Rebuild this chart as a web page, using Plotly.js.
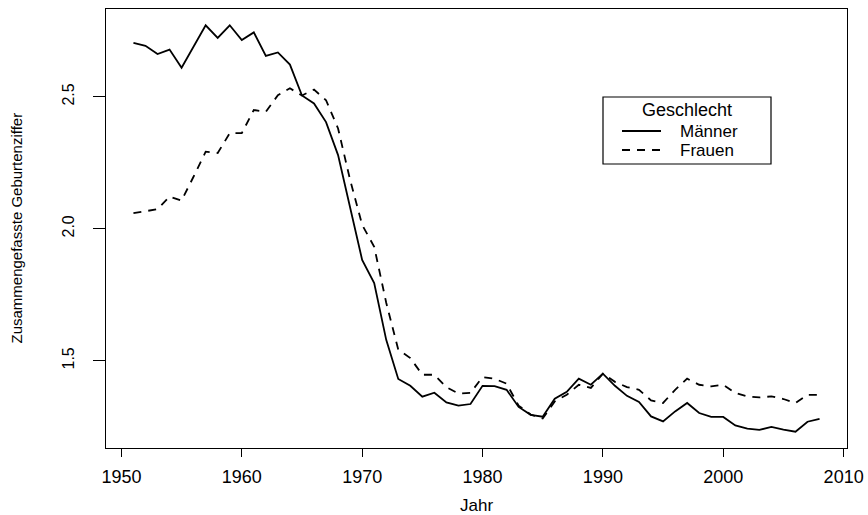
<!DOCTYPE html>
<html>
<head>
<meta charset="utf-8">
<script src="https://cdn.plot.ly/plotly-3.0.1.min.js"></script>
<style>
  html, body { margin: 0; padding: 0; background: #fff; }
  #plot { width: 868px; height: 515px; }
</style>
</head>
<body>
<div id="plot"></div>
<script>
const years = [];
for (let y = 1951; y <= 2008; y++) years.push(y);

const maenner = [
    2.704, 2.693, 2.662, 2.679, 2.610, 2.691, 2.771, 2.723, 2.771, 2.715,
    2.744, 2.655, 2.668, 2.622, 2.505, 2.475, 2.404, 2.279, 2.084, 1.882,
    1.794, 1.579, 1.431, 1.405, 1.364, 1.379, 1.342, 1.330, 1.336, 1.405,
    1.404, 1.390, 1.325, 1.295, 1.288, 1.356, 1.382, 1.432, 1.409, 1.451,
    1.405, 1.367, 1.344, 1.289, 1.270, 1.308, 1.340, 1.302, 1.287, 1.287,
    1.255, 1.243, 1.238, 1.249, 1.239, 1.231, 1.269, 1.280
];

const frauen = [
    2.059, 2.067, 2.074, 2.122, 2.107, 2.198, 2.292, 2.287, 2.362, 2.362,
    2.450, 2.443, 2.506, 2.532, 2.505, 2.527, 2.487, 2.380, 2.185, 2.015,
    1.932, 1.720, 1.542, 1.510, 1.447, 1.447, 1.400, 1.376, 1.378, 1.438,
    1.432, 1.413, 1.330, 1.296, 1.281, 1.346, 1.371, 1.409, 1.397, 1.451,
    1.420, 1.400, 1.390, 1.350, 1.340, 1.390, 1.432, 1.409, 1.403, 1.409,
    1.378, 1.365, 1.361, 1.365, 1.355, 1.340, 1.371, 1.371
];

const xTicks = [1950, 1960, 1970, 1980, 1990, 2000, 2010];
const yTicks = [1.5, 2.0, 2.5];
const seriesNames = ["Männer", "Frauen"];
const legendTitle = "Geschlecht";

// R style axis extension: data range plus 4% on each side
function rRange(vals) {
    const lo = Math.min(...vals), hi = Math.max(...vals);
    const pad = (hi - lo) * 0.04;
    return [lo - pad, hi + pad];
}

const font = "Liberation Sans, Arial, Helvetica, sans-serif";
const M = { l: 106, r: 21, t: 9, b: 67 };
const W = 868, H = 515;
const pw = W - M.l - M.r, ph = H - M.t - M.b;
// pixel -> paper helpers for the legend box
const px = v => (v - M.l) / pw;
const py = v => (H - M.b - v) / ph;

const dashes = ["solid", "8px,7px"];

const traces = [maenner, frauen].map((vals, i) => ({
    x: years, y: vals, name: seriesNames[i],
    type: "scatter", mode: "lines",
    line: { color: "#000", width: 1.8, dash: dashes[i] }
}));

// R-style legend: framed box, centred title, line samples
const shapes = [
    { type: "rect", xref: "paper", yref: "paper",
      x0: px(603), x1: px(771), y0: py(164), y1: py(97),
      line: { color: "#000", width: 1.2 }, fillcolor: "#fff", layer: "above" }
];
const annotations = [
    { text: legendTitle, xref: "paper", yref: "paper", x: px(687), y: py(110),
      xanchor: "center", yanchor: "middle", showarrow: false, borderpad: 0,
      font: { family: font, size: 18 } }
];
seriesNames.forEach((name, i) => {
    const yy = 131 + i * 19;
    shapes.push({ type: "line", xref: "paper", yref: "paper",
        x0: px(622), x1: px(661), y0: py(yy), y1: py(yy),
        line: { color: "#000", width: 1.8, dash: dashes[i] }, layer: "above" });
    annotations.push({ text: name, xref: "paper", yref: "paper", x: px(679), y: py(yy),
        xanchor: "left", yanchor: "middle", showarrow: false, borderpad: 0,
        font: { family: font, size: 17 } });
});

annotations.push(
    { text: "Jahr", xref: "paper", yref: "paper",
      x: 0.5, y: py(505), xanchor: "center", yanchor: "middle",
      showarrow: false, font: { family: font, size: 17 } },
    { text: "Zusammengefasste Geburtenziffer", xref: "paper", yref: "paper",
      x: px(16), y: 0.5, xanchor: "center", yanchor: "middle",
      textangle: -90, showarrow: false, font: { family: font, size: 15 } }
);

const layout = {
    width: W, height: H,
    margin: M,
    paper_bgcolor: "#fff", plot_bgcolor: "#fff",
    font: { family: font, color: "#000", size: 18 },
    showlegend: false,
    xaxis: {
        range: rRange(years),
        tickvals: xTicks, ticktext: xTicks.map(String),
        ticks: "outside", ticklen: 8, tickwidth: 1.2, tickcolor: "#000",
        showline: true, mirror: true, linecolor: "#000", linewidth: 1.2,
        showgrid: false, zeroline: false,
        tickfont: { family: font, size: 18 },
        ticklabelstandoff: 4
    },
    yaxis: {
        range: rRange(maenner.concat(frauen)),
        tickvals: yTicks, ticktext: yTicks.map(v => v.toFixed(1)),
        tickangle: -90,
        ticks: "outside", ticklen: 12, tickwidth: 1.2, tickcolor: "#000",
        showline: true, mirror: true, linecolor: "#000", linewidth: 1.2,
        showgrid: false, zeroline: false,
        tickfont: { family: font, size: 16 },
        ticklabelstandoff: 12
    },
    shapes: shapes,
    annotations: annotations
};

Plotly.newPlot("plot", traces, layout, { staticPlot: true });
</script>
</body>
</html>
